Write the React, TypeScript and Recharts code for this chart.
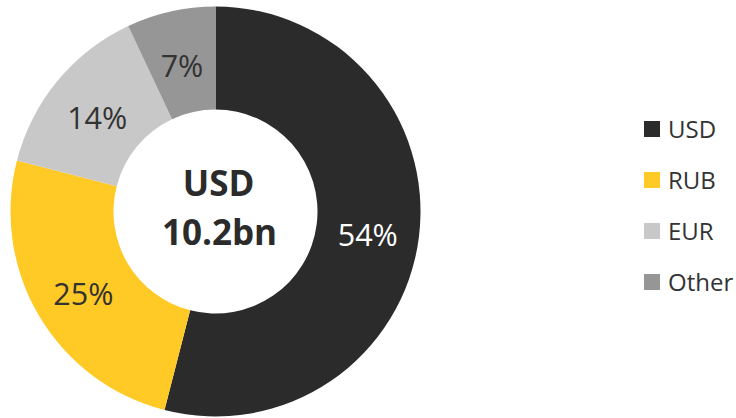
import { PieChart, Pie, Cell, Legend } from 'recharts'

// Currency split of the total
const currencies = ['USD', 'RUB', 'EUR', 'Other']
const shares = [54, 25, 14, 7]
const totalLabel = ['USD', '10.2bn']

const COLORS = ['#2b2b2b', '#ffc926', '#c8c8c8', '#969696']
const LABEL_COLORS = ['#ffffff', '#333333', '#333333', '#333333']
const FONT = '"Open Sans", "Noto Sans", sans-serif'

const data = currencies.map((name, i) => ({ name, value: shares[i] }))

const RADIAN = Math.PI / 180

const renderLabel = (props: any) => {
  const { cx, cy, midAngle, innerRadius, outerRadius, index, value } = props
  const r = (innerRadius + outerRadius) / 2
  const x = cx + r * Math.cos(-midAngle * RADIAN)
  const y = cy + r * Math.sin(-midAngle * RADIAN)
  return (
    <g>
      <text
        x={x}
        y={y + 3}
        fill={LABEL_COLORS[index]}
        textAnchor="middle"
        dominantBaseline="central"
        fontSize={30.5}
        fontFamily={FONT}
      >
        {`${value}%`}
      </text>
      {/* total in the hole, drawn once */}
      {index === 0 && (
        <g>
          <text x={cx + 3} y={cy - 29} textAnchor="middle" dominantBaseline="central"
            fontSize={35} fontWeight={700} fill="#2b2b2b" fontFamily={FONT}>
            {totalLabel[0]}
          </text>
          <text x={cx + 4} y={cy + 20} textAnchor="middle" dominantBaseline="central"
            fontSize={35} fontWeight={700} fill="#2b2b2b" fontFamily={FONT}>
            {totalLabel[1]}
          </text>
        </g>
      )}
    </g>
  )
}

const renderLegend = () => (
  <div style={{ fontFamily: FONT }}>
    {data.map((d, i) => (
      <div key={d.name} style={{ display: 'flex', alignItems: 'center', height: 51 }}>
        <span style={{ width: 16, height: 16, background: COLORS[i], marginRight: 8 }} />
        <span style={{ fontSize: 24, color: '#333333' }}>{d.name}</span>
      </div>
    ))}
  </div>
)

export default function App() {
  return (
    <div style={{ position: 'fixed', left: 0, top: 0, background: '#fff' }}>
      <PieChart width={736} height={418} margin={{ top: 0, right: 0, bottom: 0, left: 0 }}>
        <Pie
          data={data}
          dataKey="value"
          cx={215.5}
          cy={211.5}
          innerRadius={102}
          outerRadius={205}
          startAngle={90}
          endAngle={-270}
          stroke="none"
          labelLine={false}
          label={renderLabel}
          isAnimationActive={false}
        >
          {data.map((entry, index) => (
            <Cell key={`cell-${index}`} fill={COLORS[index]} />
          ))}
        </Pie>
        <Legend
          layout="vertical"
          content={renderLegend}
          wrapperStyle={{ left: 644, top: 103, width: 92 }}
        />
      </PieChart>
    </div>
  )
}
